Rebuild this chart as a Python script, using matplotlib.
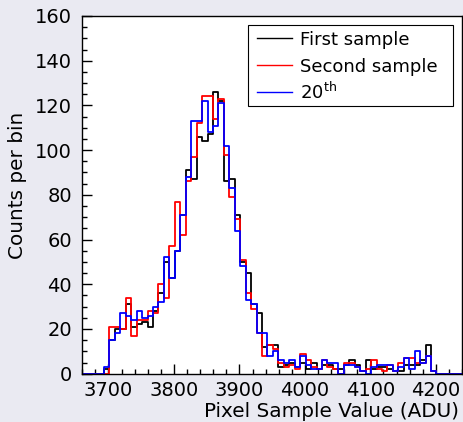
import matplotlib
matplotlib.use("Agg")
import matplotlib.pyplot as plt
import numpy as np
from matplotlib.patches import Rectangle
from matplotlib.ticker import MultipleLocator

# binning of the pixel sample histograms (ADU)
bin_lo, bin_hi, n_bins = 3693, 4201, 61

first_sample = [2, 15, 20, 20, 31, 21, 22, 23, 21, 28,
                36, 50, 43, 55, 71, 91, 87, 106, 104, 107,
                126, 122, 86, 87, 71, 50, 45, 31, 27, 12,
                13, 13, 3, 4, 5, 3, 5, 2, 5, 2,
                4, 4, 2, 2, 4, 6, 4, 1, 6, 2,
                3, 3, 2, 1, 1, 4, 4, 4, 6, 13, 1]
second_sample = [0, 21, 21, 20, 34, 17, 24, 24, 28, 27,
                 40, 34, 57, 77, 62, 86, 97, 112, 124, 124,
                 114, 123, 98, 79, 69, 51, 36, 29, 18, 8,
                 13, 11, 5, 3, 4, 2, 9, 6, 3, 2,
                 6, 3, 2, 0, 5, 5, 3, 1, 2, 6,
                 2, 1, 4, 1, 5, 7, 7, 5, 5, 8, 1]
sample_20 = [3, 15, 18, 27, 26, 24, 28, 25, 26, 30,
             32, 52, 43, 55, 71, 88, 113, 113, 122, 108,
             111, 121, 102, 83, 64, 48, 33, 31, 18, 18,
             8, 10, 6, 5, 6, 3, 8, 4, 2, 2,
             6, 5, 5, 0, 4, 4, 3, 1, 0, 3,
             4, 4, 4, 1, 3, 7, 2, 10, 5, 8, 1]

series = [first_sample, second_sample, sample_20]
labels = ["First sample", "Second sample", "20$^{\\mathrm{th}}$"]
colors = ["black", "red", "blue"]

x_range = (3660, 4240)
y_range = (0, 160)

plt.rcParams["font.family"] = ["DejaVu Sans"]

fig = plt.figure(figsize=(4.64, 4.22), dpi=100, facecolor="#eaeaf2")
ax = fig.add_axes([0.1774, 0.1145, 0.8183, 0.8476])

edges = np.linspace(bin_lo, bin_hi, n_bins + 1)
# empty bins on both sides so the outline runs along zero, ROOT style
full_edges = np.concatenate([[x_range[0]], edges, [x_range[1]]])

for counts, color in zip(series, colors):
    vals = np.concatenate([[0], counts, [0]])
    ax.step(full_edges, np.append(vals, 0), where="post", color=color, lw=1.3)

ax.set_xlim(*x_range)
ax.set_ylim(*y_range)

ax.xaxis.set_major_locator(MultipleLocator(100))
ax.xaxis.set_minor_locator(MultipleLocator(20))
ax.yaxis.set_major_locator(MultipleLocator(20))
ax.yaxis.set_minor_locator(MultipleLocator(5))
ax.tick_params(which="both", direction="in", top=False, right=False, width=1)
ax.tick_params(which="major", length=7.5, labelsize=14)
ax.tick_params(axis="y", which="major", pad=7.5)
ax.tick_params(axis="x", which="major", pad=5)
ax.tick_params(which="minor", length=3.5)
for sp in ax.spines.values():
    sp.set_linewidth(1.0)

ax.set_xlabel("Pixel Sample Value (ADU)", fontsize=14.4, ha="right")
ax.xaxis.set_label_coords(0.992, -0.079)
ax.set_ylabel("Counts per bin", fontsize=14.4)
ax.yaxis.set_label_coords(-0.146, 0.5275)

# legend box drawn by hand (ROOT TLegend look)
ax.add_patch(Rectangle((0.4372, 0.7484), 0.5383, 0.2264, transform=ax.transAxes,
                       facecolor="white", edgecolor="black", lw=0.8, zorder=5))
for i, (label, color) in enumerate(zip(labels, colors)):
    y = 0.9376 - i * 0.0746
    ax.plot([0.4594, 0.5515], [y, y], transform=ax.transAxes,
            color=color, lw=1.0, zorder=6)
    ax.text(0.5734, y - 0.0187, label, transform=ax.transAxes,
            fontsize=13, va="baseline", zorder=6)

fig.savefig("out.png", dpi=100, facecolor=fig.get_facecolor())
